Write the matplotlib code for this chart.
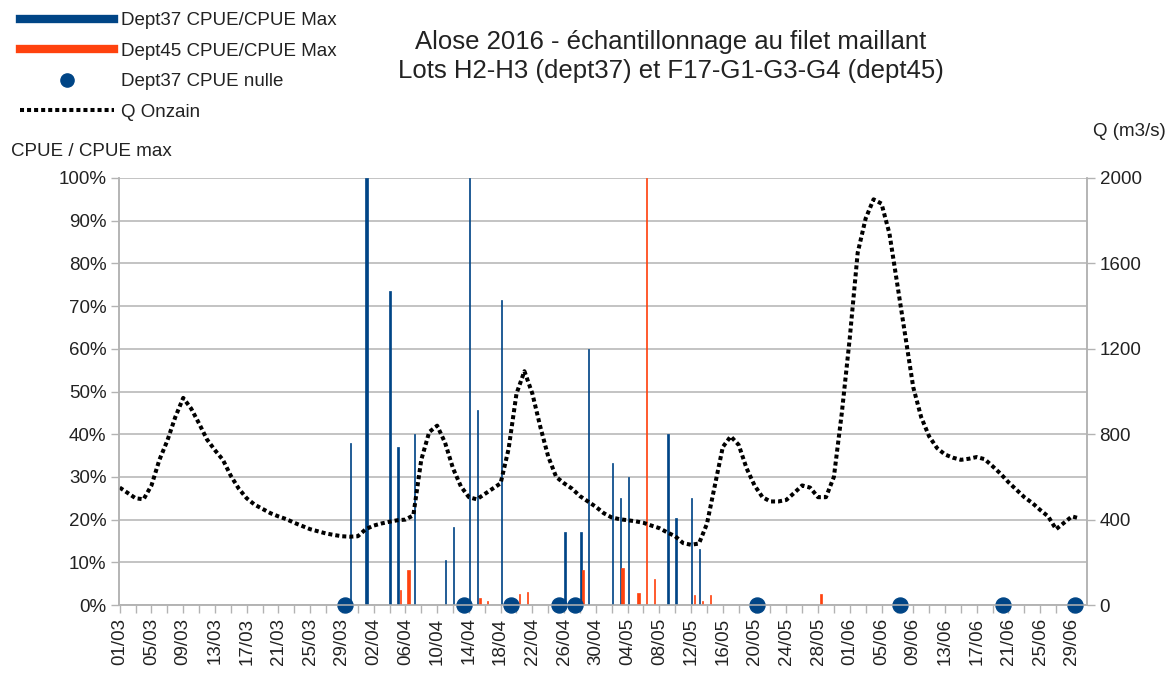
import numpy as np
import pandas as pd
import matplotlib
matplotlib.use('Agg')
import matplotlib.pyplot as plt
import matplotlib.dates as mdates
from matplotlib.lines import Line2D
from matplotlib.ticker import PercentFormatter, MultipleLocator

plt.rcParams['font.family'] = ['Liberation Sans', 'DejaVu Sans']

# ---------------- data ---------------- #
# daily flow at Onzain (m3/s), from 01/03/2016
q_start = '2016-03-01'
q_onzain = [
    550, 525, 500, 495, 560, 680, 770, 880, 970, 920,
    850, 775, 725, 680, 605, 545, 500, 470, 450, 430,
    415, 402, 385, 370, 355, 345, 335, 328, 322, 320,
    322, 355, 372, 382, 390, 397, 400, 420, 680, 810,
    840, 760, 640, 555, 505, 495, 520, 545, 570, 730,
    990, 1095, 990, 835, 695, 600, 570, 545, 510, 485,
    460, 430, 410, 402, 397, 392, 385, 372, 360, 340,
    322, 290, 282, 288, 380, 560, 740, 790, 750, 640,
    560, 505, 485, 485, 492, 525, 560, 550, 505, 505,
    600, 900, 1250, 1650, 1810, 1900, 1880, 1740, 1500, 1260,
    1020, 880, 790, 735, 705, 690, 680, 685, 693, 683,
    650, 615, 575, 540, 505, 478, 445, 415, 355, 385,
    415, 405,
]

# Dept37 CPUE / CPUE max
d37_dates = ['2016-03-30', '2016-04-01', '2016-04-04', '2016-04-05', '2016-04-07',
             '2016-04-11', '2016-04-12', '2016-04-14', '2016-04-15', '2016-04-18',
             '2016-04-26', '2016-04-28', '2016-04-29', '2016-05-02', '2016-05-03',
             '2016-05-04', '2016-05-09', '2016-05-10', '2016-05-12', '2016-05-13']
d37_cpue = [0.38, 1.00, 0.735, 0.37, 0.40,
            0.105, 0.183, 1.00, 0.457, 0.715,
            0.17, 0.17, 0.60, 0.333, 0.25,
            0.30, 0.40, 0.203, 0.25, 0.13]

# Dept45 CPUE / CPUE max
d45_dates = ['2016-04-05', '2016-04-06', '2016-04-15', '2016-04-16', '2016-04-20',
             '2016-04-21', '2016-04-28', '2016-05-03', '2016-05-05', '2016-05-06',
             '2016-05-07', '2016-05-12', '2016-05-13', '2016-05-14', '2016-05-28']
d45_cpue = [0.035, 0.082, 0.016, 0.01, 0.025,
            0.03, 0.082, 0.086, 0.029, 1.00,
            0.062, 0.023, 0.01, 0.024, 0.025]

# Dept37 sampling days with zero catch
d37_zero_dates = ['2016-03-29', '2016-04-13', '2016-04-19', '2016-04-25', '2016-04-27',
                  '2016-05-20', '2016-06-07', '2016-06-20', '2016-06-29']

# ---------------- style ---------------- #
blue = '#004586'
orange = '#ff420e'
grid_col = '#b3b3b3'
txt_col = '#222222'
fs = 13.5

d37_w = [0.14, 0.36, 0.28, 0.28, 0.14, 0.14, 0.14, 0.14, 0.14, 0.14,
         0.24, 0.24, 0.14, 0.14, 0.14, 0.14, 0.14, 0.14, 0.14, 0.14]
d45_w = [0.14, 0.36, 0.14, 0.14, 0.14, 0.14, 0.24, 0.36, 0.32, 0.14,
         0.14, 0.14, 0.14, 0.14, 0.32]

q_x = mdates.date2num(pd.date_range(q_start, periods=len(q_onzain), freq='D'))
x37 = mdates.date2num(pd.to_datetime(d37_dates))
x45 = mdates.date2num(pd.to_datetime(d45_dates))
x0 = mdates.date2num(pd.to_datetime(d37_zero_dates))

fig = plt.figure(figsize=(11.73, 6.75), dpi=100)
ax = fig.add_axes([0.1014, 0.1037, 0.8253, 0.6326])
ax2 = ax.twinx()

# bars + zero-catch dots on the left axis (edge keeps thin bars visible)
ax.bar(x37 + 0.1, d37_cpue, width=d37_w, color=blue, edgecolor=blue, lw=0.5, zorder=3)
ax.bar(x45 + 0.4, d45_cpue, width=d45_w, color=orange, edgecolor=orange, lw=0.5, zorder=3)
ax.plot(x0 + 0.35, np.zeros(len(x0)), 'o', color=blue, ms=10.8, clip_on=False, zorder=5)

# flow on the right axis
ax2.plot(q_x, q_onzain, color='black', lw=2.9, linestyle=(0, (1.0, 0.75)))

ax.set_ylim(0, 1)
ax2.set_ylim(0, 2000)
ax.set_xlim(mdates.date2num(pd.Timestamp('2016-03-01')) - 0.1,
            mdates.date2num(pd.Timestamp('2016-07-01')) - 0.1)

ax.yaxis.set_major_locator(MultipleLocator(0.1))
ax.yaxis.set_major_formatter(PercentFormatter(1.0, decimals=0))
ax2.yaxis.set_major_locator(MultipleLocator(400))

ax.set_xticks(mdates.date2num(pd.date_range('2016-03-01', '2016-06-29', freq='4D')))
ax.set_xticks(mdates.date2num(pd.date_range('2016-03-01', '2016-06-30', freq='2D')), minor=True)
ax.xaxis.set_major_formatter(mdates.DateFormatter('%d/%m'))

ax.grid(axis='y', color=grid_col, lw=1.1, zorder=0)
ax.set_axisbelow(True)

for a in (ax, ax2):
    for s in a.spines.values():
        s.set_color(grid_col)
        s.set_linewidth(1.1)
    a.spines['top'].set_visible(False)

ax.tick_params(axis='x', which='both', length=6, width=1, color=grid_col,
               labelsize=fs, labelcolor=txt_col, labelrotation=90, pad=3)
ax.tick_params(axis='y', length=6, width=1, color=grid_col, labelsize=fs,
               labelcolor=txt_col, pad=3)
ax2.tick_params(axis='y', length=6, width=1, color=grid_col, labelsize=fs,
                labelcolor=txt_col, pad=3)

# ---------------- texts ---------------- #
fig.text(0.572, 0.916, 'Alose 2016 - échantillonnage au filet maillant\n'
         'Lots H2-H3 (dept37) et F17-G1-G3-G4 (dept45)',
         ha='center', va='center', fontsize=18.5, color=txt_col, linespacing=1.25)
fig.text(11 / 1173, 1 - 152 / 675, 'CPUE / CPUE max', ha='left', va='center',
         fontsize=fs, color=txt_col)
fig.text(1166 / 1173, 1 - 132 / 675, 'Q (m3/s)', ha='right', va='center',
         fontsize=fs, color=txt_col)

handles = [
    Line2D([], [], color=blue, lw=6),
    Line2D([], [], color=orange, lw=6),
    Line2D([], [], color=blue, marker='o', ls='none', ms=9.5),
    Line2D([], [], color='black', lw=2.9, linestyle=(0, (1.0, 0.75))),
]
labels = ['Dept37 CPUE/CPUE Max', 'Dept45 CPUE/CPUE Max', 'Dept37 CPUE nulle', 'Q Onzain']
fig.legend(handles, labels, loc='upper left', bbox_to_anchor=(20 / 1173, 1 - 12 / 675),
           frameon=False, fontsize=fs, handlelength=5.0, handletextpad=0.4,
           labelspacing=0.72, borderpad=0, borderaxespad=0, labelcolor=txt_col)

fig.savefig('out.png', dpi=100)
